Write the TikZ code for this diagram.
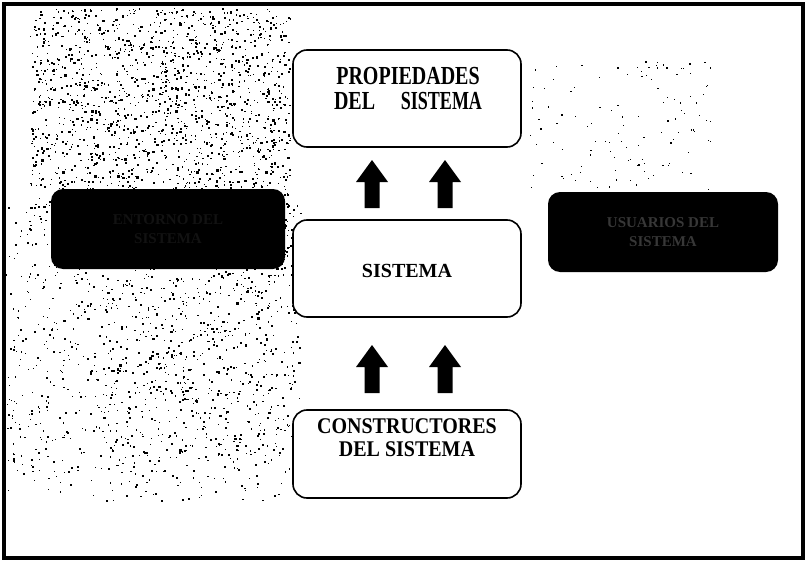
\documentclass[tikz,border=0pt]{standalone}
\usepackage{fontspec}
\usepackage{calc}
\setmainfont{Liberation Serif}
\begin{document}
\begin{tikzpicture}[x=1pt,y=-1pt,
  wbox/.style={draw=black,line width=1.6pt,rounded corners=14pt,fill=white,minimum width=228pt,inner sep=0pt},
  bbox/.style={fill=black,rounded corners=12pt,inner sep=0pt},
  lbl/.style={font=\fontsize{20}{19.5}\selectfont\bfseries,align=center,inner sep=0pt},
  dim/.style={font=\fontsize{15}{19}\selectfont\bfseries,align=center,inner sep=0pt},
  uparrow/.pic={\fill[black] (-7.5,0) -- (7.5,0) -- (7.5,-26) -- (16,-26) -- (0,-48) -- (-16,-26) -- (-7.5,-26) -- cycle;}
]
\useasboundingbox (0,0) rectangle (807,562);
\fill[white] (0,0) rectangle (807,562);
% speckled background
\pgfmathsetseed{11}
\foreach \i in {1,...,1600}{
  \pgfmathsetmacro{\px}{30+rnd*260}
  \pgfmathsetmacro{\py}{8+rnd*200}
  \pgfmathsetmacro{\ps}{0.8+rnd*1.6}
  \fill[black] (\px,\py) rectangle ++(\ps,\ps);
}
\foreach \i in {1,...,900}{
  \pgfmathsetmacro{\px}{6+rnd*290}
  \pgfmathsetmacro{\py}{200+rnd*300}
  \pgfmathsetmacro{\ps}{0.7+rnd*1.4}
  \fill[black] (\px,\py) rectangle ++(\ps,\ps);
}
\foreach \i in {1,...,500}{
  \pgfmathsetmacro{\px}{100+rnd*200}
  \pgfmathsetmacro{\py}{200+rnd*260}
  \pgfmathsetmacro{\ps}{0.8+rnd*1.6}
  \fill[black] (\px,\py) rectangle ++(\ps,\ps);
}
\foreach \i in {1,...,120}{
  \pgfmathsetmacro{\px}{530+rnd*180}
  \pgfmathsetmacro{\py}{60+rnd*130}
  \pgfmathsetmacro{\ps}{0.7+rnd*1.0}
  \fill[black] (\px,\py) rectangle ++(\ps,\ps);
}
% frame
\draw[line width=4pt] (4,4) rectangle (803,558);
% white boxes
\node[wbox,minimum height=97pt] (prop) at (407,98.5) {};
\node[lbl] (proptxt) at (408,92) {\scalebox{1}[1.3]{\begin{tabular}{@{}c@{}}PROPIEDADES\\\makebox[148pt][s]{DEL\hfill \scalebox{0.9}[1]{SISTEMA}}\end{tabular}}};
\node[wbox,minimum height=97pt] (sis) at (407,268.5) {};
\node[lbl] (sistxt) at (407,271) {SISTEMA};
\node[wbox,minimum height=88pt] (cons) at (407,454) {};
\node[lbl] (constxt) at (407,441) {\scalebox{1}[1.12]{\begin{tabular}{@{}c@{}}CONSTRUCTORES\\[1pt]DEL SISTEMA\end{tabular}}};
% black boxes
\node[bbox,minimum width=234pt,minimum height=80pt] (left) at (168,229) {};
\node[dim,text={rgb,255:red,18;green,18;blue,18}] (lefttxt) at (168,229) {ENTORNO DEL\\SISTEMA};
\node[bbox,minimum width=230pt,minimum height=80pt] (right) at (663,232) {};
\node[dim,text={rgb,255:red,55;green,55;blue,55}] (righttxt) at (663,232) {USUARIOS DEL\\SISTEMA};
% block arrows
\pic at (372,208) {uparrow};
\pic at (445,208) {uparrow};
\pic at (372,393) {uparrow};
\pic at (445,393) {uparrow};
\end{tikzpicture}
\end{document}
